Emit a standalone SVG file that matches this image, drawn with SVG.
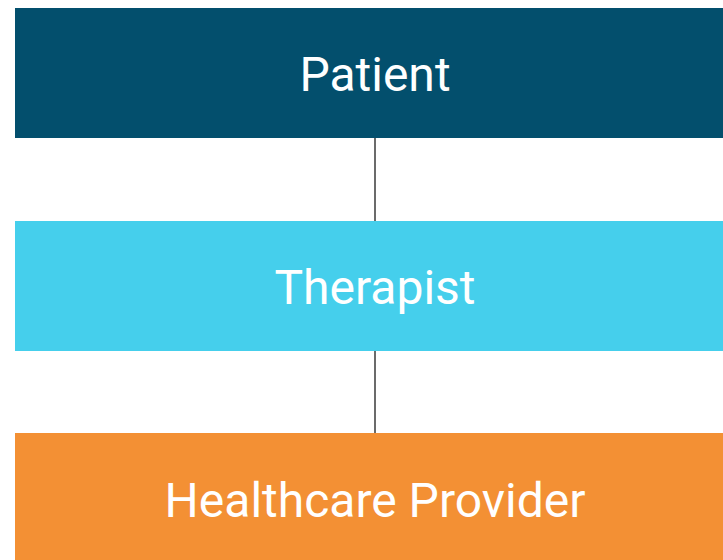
<svg xmlns="http://www.w3.org/2000/svg" width="723" height="560" viewBox="0 0 723 560">
<style>
.lbl{font-family:Roboto,"Liberation Sans",sans-serif;font-size:48px;fill:#ffffff;text-anchor:middle}
.edge{stroke:#3a3a3a;stroke-width:1.5;fill:none}
</style>
<rect width="723" height="560" fill="#ffffff"/>
<g id="connectors">
<line class="edge" x1="375" y1="138" x2="375" y2="221"/>
<line class="edge" x1="375" y1="351" x2="375" y2="433"/>
</g>
<g id="patient">
<rect x="15" y="8" width="720" height="130" fill="#034F6D"/>
<text class="lbl" x="375" y="91">Patient</text>
</g>
<g id="therapist">
<rect x="15" y="221" width="720" height="130" fill="#45CFEC"/>
<text class="lbl" x="375" y="304">Therapist</text>
</g>
<g id="provider">
<rect x="15" y="433" width="720" height="130" fill="#F39034"/>
<text class="lbl" x="375" y="517">Healthcare Provider</text>
</g>
</svg>
